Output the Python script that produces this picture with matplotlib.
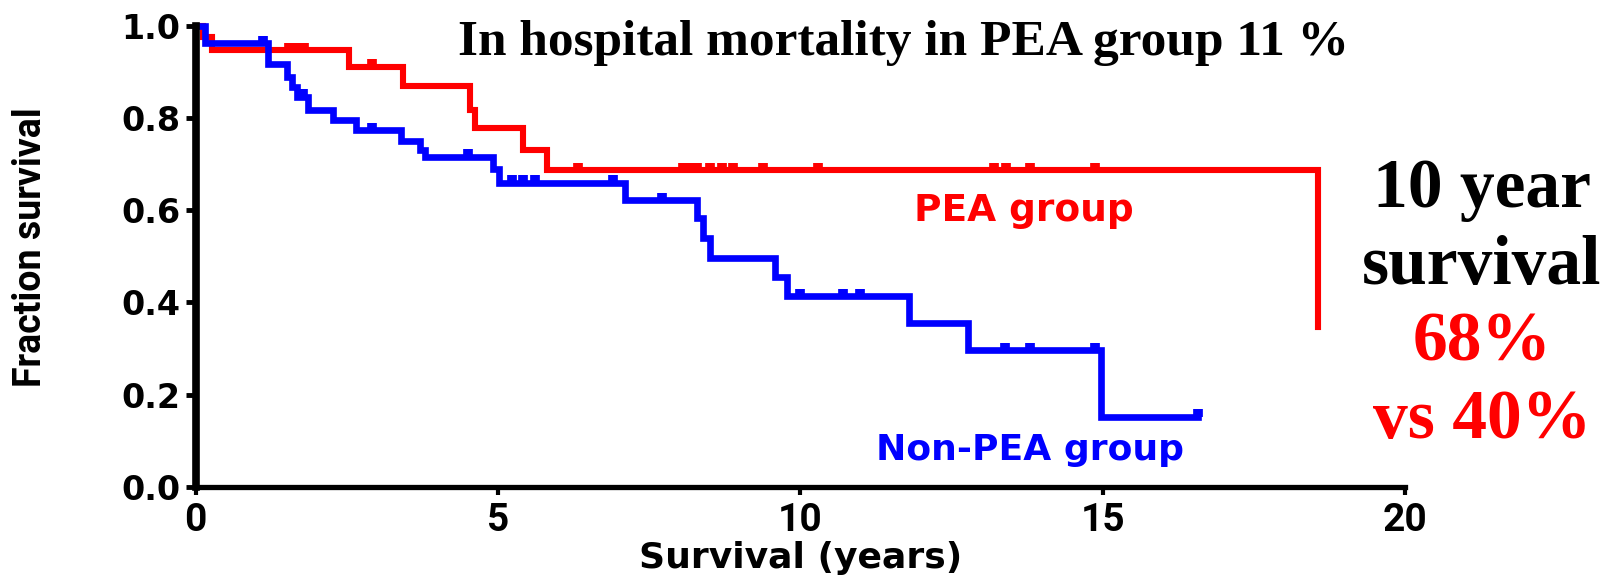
import numpy as np
import matplotlib

matplotlib.use("Agg")

import matplotlib.pyplot as plt

# Kaplan-Meier steps (years, fraction surviving)
pea_times = [0, 0.12, 0.27, 2.53, 3.43, 4.53, 4.62, 5.42, 5.81, 18.56]
pea_surv = [1.0, 0.975, 0.947, 0.911, 0.869, 0.817, 0.778, 0.730, 0.687, 0.347]
pea_censored = [1.55, 1.68, 1.80, 2.91, 6.32, 8.06, 8.17, 8.29, 8.50, 8.70,
                8.89, 9.38, 10.30, 13.20, 13.40, 13.80, 14.87]

non_times = [0, 0.16, 1.20, 1.51, 1.59, 1.67, 1.86, 2.28, 2.66, 3.40, 3.71,
             3.79, 4.92, 5.01, 7.10, 8.29, 8.39, 8.51, 9.58, 9.78, 11.79,
             12.78, 14.98, 16.58]
non_surv = [1.0, 0.962, 0.918, 0.889, 0.868, 0.846, 0.817, 0.796, 0.774,
            0.749, 0.731, 0.716, 0.690, 0.660, 0.622, 0.582, 0.540, 0.496,
            0.456, 0.414, 0.355, 0.297, 0.152, 0.152]
non_censored = [1.12, 1.78, 2.91, 4.51, 5.23, 5.42, 5.61, 6.91, 7.71, 9.99,
                10.71, 10.99, 13.39, 13.80, 14.87, 16.58]

x_ticks = [0, 5, 10, 15, 20]
y_ticks = [0.0, 0.2, 0.4, 0.6, 0.8, 1.0]

RED = "#ff0000"
BLUE = "#0000ff"
NARROW = ["Roboto", "DejaVu Sans"]
SERIF = ["Liberation Serif", "DejaVu Serif"]


def level_at(times, surv, t):
    idx = np.searchsorted(times, t, side="right") - 1
    return np.array(surv)[idx]


fig = plt.figure(figsize=(16.14, 5.78), dpi=100)
ax = fig.add_axes([0.1212, 0.1576, 0.7493, 0.7979])

for times, surv, cens, color, lw in [
    (pea_times, pea_surv, pea_censored, RED, 4.4),
    (non_times, non_surv, non_censored, BLUE, 4.8),
]:
    ax.step(times, surv, where="post", color=color, linewidth=lw,
            solid_joinstyle="miter", clip_on=False, zorder=3)
    levels = level_at(times, surv, cens)
    ax.vlines(cens, levels, levels + 0.016, color=color, linewidth=7,
              zorder=3, clip_on=False)

ax.set_xlim(0, 20)
ax.set_ylim(0, 1.0)
for side in ["top", "right"]:
    ax.spines[side].set_visible(False)
ax.spines["left"].set_linewidth(5.5)
ax.spines["bottom"].set_linewidth(3.8)
ax.spines["left"].set_zorder(4)

ax.set_xticks(x_ticks)
ax.set_yticks(y_ticks)
ax.set_yticklabels([f"{v:.1f}" for v in y_ticks])
ax.tick_params(axis="y", length=7, width=3.5, pad=4, labelsize=24)
ax.tick_params(axis="x", length=6, width=3, pad=5)
for lbl in ax.get_yticklabels():
    lbl.set_fontweight("heavy")
for lbl in ax.get_xticklabels():
    lbl.set_family(NARROW)
    lbl.set_fontweight("bold")
    lbl.set_fontsize(28)

ax.set_xlabel("Survival (years)", fontsize=26, fontweight="heavy", labelpad=1)
ax.set_ylabel("Fraction survival", fontsize=27, family=NARROW,
              fontweight="bold")
ax.yaxis.set_label_coords(-0.121, 0.52)

ax.text(0.585, 0.9625, "In hospital mortality in PEA group 11 %",
        transform=ax.transAxes, ha="center", va="center", fontsize=37,
        family=SERIF, fontweight="bold")
ax.text(13.7, 0.598, "PEA group", color=RED, fontsize=27, fontweight="bold",
        ha="center", va="center")
ax.text(13.8, 0.08, "Non-PEA group", color=BLUE, fontsize=26,
        fontweight="bold", ha="center", va="center")

right_lines = [("10 year", "black"), ("survival", "black"),
               ("68%", RED), ("vs 40%", RED)]
for i, (txt, col) in enumerate(right_lines):
    fig.text(0.918, 0.671 - i * 0.133, txt, color=col, fontsize=50,
             family=SERIF, fontweight="bold", ha="center", va="center")

fig.savefig("out.png", dpi=100)
plt.close(fig)
